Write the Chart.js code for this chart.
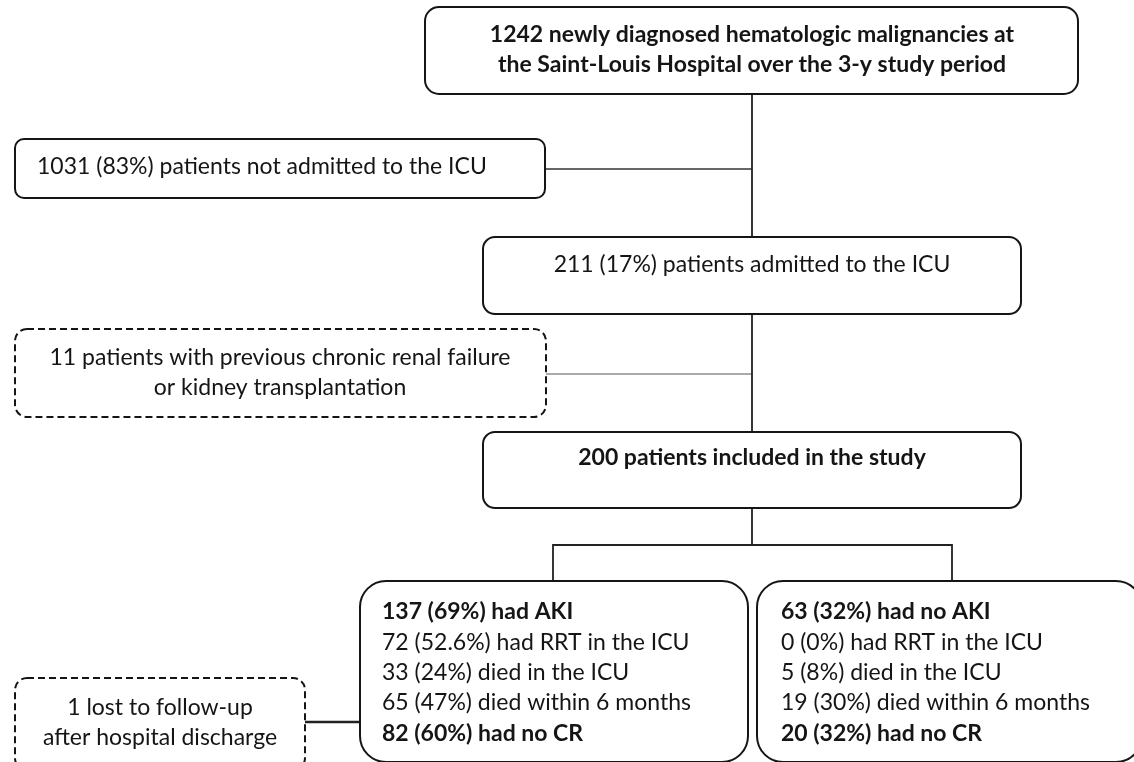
<!DOCTYPE html>
<html>
<head>
<meta charset="utf-8">
<script src="https://cdn.jsdelivr.net/npm/chart.js@4"></script>
<style>
  html, body { margin: 0; padding: 0; background: #fff; }
  #wrap { width: 1134px; height: 762px; position: relative; }
</style>
</head>
<body>
<div id="wrap"><canvas id="flowChart"></canvas></div>
<script>
// flow counts (text of each box)
const screenedLines = ["1242 newly diagnosed hematologic malignancies at", "the Saint-Louis Hospital over the 3-y study period"];
const notAdmittedLines = ["1031 (83%) patients not admitted to the ICU"];
const admittedLines = ["211 (17%) patients admitted to the ICU"];
const excludedLines = ["11 patients with previous chronic renal failure", "or kidney transplantation"];
const includedLines = ["200 patients included in the study"];
const akiLines = ["137 (69%) had AKI", "72 (52.6%) had RRT in the ICU", "33 (24%) died in the ICU", "65 (47%) died within 6 months", "82 (60%) had no CR"];
const noAkiLines = ["63 (32%) had no AKI", "0 (0%) had RRT in the ICU", "5 (8%) died in the ICU", "19 (30%) died within 6 months", "20 (32%) had no CR"];
const lostLines = ["1 lost to follow-up", "after hospital discharge"];

const FONT = "Lato, 'Open Sans', sans-serif";
const INK = "#151515";

// layout in plot units (0..1134 x 0..762, y downwards)
const boxes = [
  { lines: screenedLines, x0: 425, x1: 1078, y0: 7, y1: 94, r: 14, bold: [0, 1], align: "center", tx: 752, ty: 35, gap: 30 },
  { lines: notAdmittedLines, x0: 15, x1: 545, y0: 139, y1: 198, r: 9, bold: [], align: "left", tx: 37, ty: 167, gap: 30 },
  { lines: admittedLines, x0: 483, x1: 1021, y0: 237, y1: 314, r: 12, bold: [], align: "center", tx: 752, ty: 265, gap: 30 },
  { lines: excludedLines, x0: 15, x1: 546, y0: 329, y1: 417, r: 12, bold: [], align: "center", tx: 280, ty: 358, gap: 30, dash: true },
  { lines: includedLines, x0: 483, x1: 1021, y0: 432, y1: 508, r: 12, bold: [0], align: "center", tx: 752, ty: 458, gap: 30 },
  { lines: akiLines, x0: 360, x1: 748, y0: 581, y1: 762, r: 26, bold: [0, 4], align: "left", tx: 382, ty: 612, gap: 30.3 },
  { lines: noAkiLines, x0: 757, x1: 1142, y0: 581, y1: 762, r: 26, bold: [0, 4], align: "left", tx: 781, ty: 612, gap: 30.3 },
  { lines: lostLines, x0: 15, x1: 305, y0: 678, y1: 770, r: 12, bold: [], align: "center", tx: 160, ty: 708, gap: 29.5, dash: true }
];

const links = [
  { pts: [[752, 94], [752, 237]], w: 1.8, c: "#222" },
  { pts: [[545, 169], [752, 169]], w: 1.5, c: "#333" },
  { pts: [[752, 314], [752, 432]], w: 1.8, c: "#222" },
  { pts: [[546, 374], [752, 374]], w: 1.2, c: "#555" },
  { pts: [[752, 508], [752, 545]], w: 1.8, c: "#222" },
  { pts: [[553, 581], [553, 545], [952, 545], [952, 581]], w: 1.8, c: "#222" },
  { pts: [[305, 722], [360, 722]], w: 2.6, c: "#222" }
];

const datasets = links.map(l => ({
  type: "scatter",
  data: l.pts.map(p => ({ x: p[0], y: p[1] })),
  showLine: true,
  borderColor: l.c,
  borderWidth: l.w,
  pointRadius: 0,
  fill: false
}));

const boxPlugin = {
  id: "boxes",
  afterDatasetsDraw(chart) {
    const ctx = chart.ctx;
    const xs = chart.scales.x, ys = chart.scales.y;
    ctx.save();
    boxes.forEach(b => {
      const x0 = xs.getPixelForValue(b.x0), x1 = xs.getPixelForValue(b.x1);
      const y0 = ys.getPixelForValue(b.y0), y1 = ys.getPixelForValue(b.y1);
      ctx.beginPath();
      ctx.roundRect(x0, y0, x1 - x0, y1 - y0, b.r);
      ctx.fillStyle = "#fff";
      ctx.fill();
      ctx.setLineDash(b.dash ? [7, 4] : []);
      ctx.lineWidth = 2;
      ctx.strokeStyle = INK;
      ctx.stroke();
      ctx.setLineDash([]);
      ctx.fillStyle = INK;
      ctx.textAlign = b.align;
      ctx.textBaseline = "middle";
      b.lines.forEach((t, i) => {
        const w = b.bold.includes(i) ? "bold " : "";
        ctx.font = w + "23px " + FONT;
        ctx.fillText(t, xs.getPixelForValue(b.tx), ys.getPixelForValue(b.ty + i * b.gap));
      });
    });
    ctx.restore();
  }
};

new Chart(document.getElementById("flowChart"), {
  type: "scatter",
  data: { datasets },
  options: {
    responsive: true,
    maintainAspectRatio: false,
    animation: false,
    layout: { padding: 0 },
    plugins: { legend: { display: false }, tooltip: { enabled: false } },
    scales: {
      x: { type: "linear", min: 0, max: 1134, display: false },
      y: { type: "linear", min: 0, max: 762, reverse: true, display: false }
    }
  },
  plugins: [boxPlugin]
});
</script>
</body>
</html>
